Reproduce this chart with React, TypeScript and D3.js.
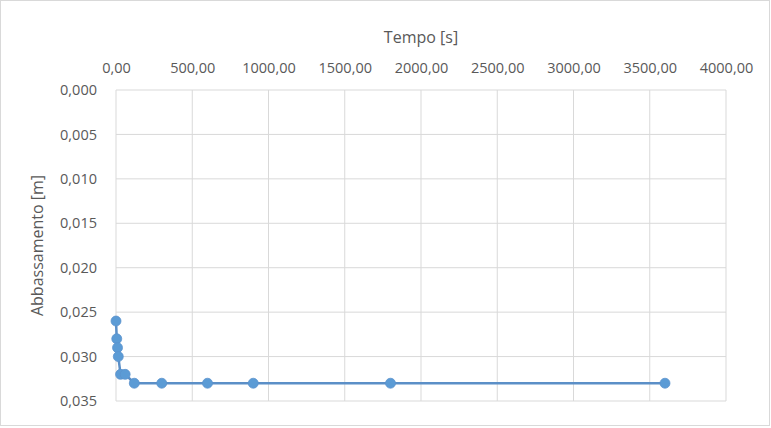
import { useRef, useEffect } from 'react';
import * as d3 from 'd3';

// Tempo [s] and Abbassamento [m]
const times = [0, 5, 10, 15, 30, 60, 120, 300, 600, 900, 1800, 3600];
const drawdown = [0.026, 0.028, 0.029, 0.030, 0.032, 0.032, 0.033, 0.033, 0.033, 0.033, 0.033, 0.033];
const xTicks = [0, 500, 1000, 1500, 2000, 2500, 3000, 3500, 4000];
const yTicks = [0, 0.005, 0.01, 0.015, 0.02, 0.025, 0.03, 0.035];

const W = 771;
const H = 428;

export default function App() {
  const ref = useRef<SVGSVGElement>(null);

  useEffect(() => {
    if (!ref.current) return;
    draw(ref.current);
  }, []);

  return (
    <svg
      ref={ref}
      width={W}
      height={H}
      style={{ position: 'absolute', left: 0, top: 0, background: '#fff' }}
    />
  );
}

function draw(el: SVGSVGElement) {
  const margin = { top: 90, right: 45, bottom: 27, left: 116 };
  const innerW = W - margin.left - margin.right;
  const innerH = H - margin.top - margin.bottom;

  const svg = d3.select(el);
  svg.selectAll('*').remove();

  const it = d3.formatLocale({ decimal: ',', thousands: '.', grouping: [3], currency: ['', '€'] });
  const fx = it.format('.2f');
  const fy = it.format('.3f');

  const x = d3.scaleLinear().domain([0, 4000]).range([0, innerW]);
  const y = d3.scaleLinear().domain([0, 0.035]).range([0, innerH]);

  const font = '"Open Sans", sans-serif';

  // outer chart border
  svg.append('rect')
    .attr('x', 0.5).attr('y', 0.5)
    .attr('width', W - 2).attr('height', H - 3)
    .attr('fill', '#fff')
    .attr('stroke', '#d9d9d9');

  const g = svg.append('g').attr('transform', `translate(${margin.left},${margin.top})`);

  // grid
  g.append('g')
    .selectAll('line')
    .data(yTicks)
    .join('line')
    .attr('x1', 0).attr('x2', innerW)
    .attr('y1', (d) => y(d)).attr('y2', (d) => y(d))
    .attr('stroke', '#d9d9d9');

  g.append('g')
    .selectAll('line')
    .data(xTicks)
    .join('line')
    .attr('x1', (d) => x(d)).attr('x2', (d) => x(d))
    .attr('y1', 0).attr('y2', innerH)
    .attr('stroke', '#d9d9d9');

  // axes (labels only)
  const xAxis = g.append('g')
    .call(d3.axisTop(x).tickValues(xTicks).tickFormat((d) => fx(d as number)).tickSize(0).tickPadding(17));
  const yAxis = g.append('g')
    .call(d3.axisLeft(y).tickValues(yTicks).tickFormat((d) => fy(d as number)).tickSize(0).tickPadding(19));

  [xAxis, yAxis].forEach((a) => {
    a.select('.domain').remove();
    a.selectAll('text')
      .style('font-family', font)
      .style('font-size', '14.5px')
      .attr('fill', '#595959');
  });

  // axis titles
  svg.append('text')
    .attr('x', margin.left + innerW / 2)
    .attr('y', 43)
    .attr('text-anchor', 'middle')
    .style('font-family', font)
    .style('font-size', '16px')
    .attr('fill', '#595959')
    .text('Tempo [s]');

  svg.append('text')
    .attr('transform', `translate(43,${margin.top + innerH / 2}) rotate(-90)`)
    .attr('text-anchor', 'middle')
    .style('font-family', font)
    .style('font-size', '16px')
    .attr('fill', '#595959')
    .text('Abbassamento [m]');

  // series
  const pts = times.map((t, i) => [t, drawdown[i]] as [number, number]);
  const line = d3.line<[number, number]>().x((d) => x(d[0])).y((d) => y(d[1]));

  g.append('path')
    .datum(pts)
    .attr('d', line)
    .attr('fill', 'none')
    .attr('stroke', '#5b8fc7')
    .attr('stroke-width', 2.5);

  g.selectAll('.pt')
    .data(pts)
    .join('circle')
    .attr('class', 'pt')
    .attr('cx', (d) => x(d[0]))
    .attr('cy', (d) => y(d[1]))
    .attr('r', 5)
    .attr('fill', '#5b9bd5')
    .attr('stroke', '#5b92cc')
    .attr('stroke-width', 0.75);
}
